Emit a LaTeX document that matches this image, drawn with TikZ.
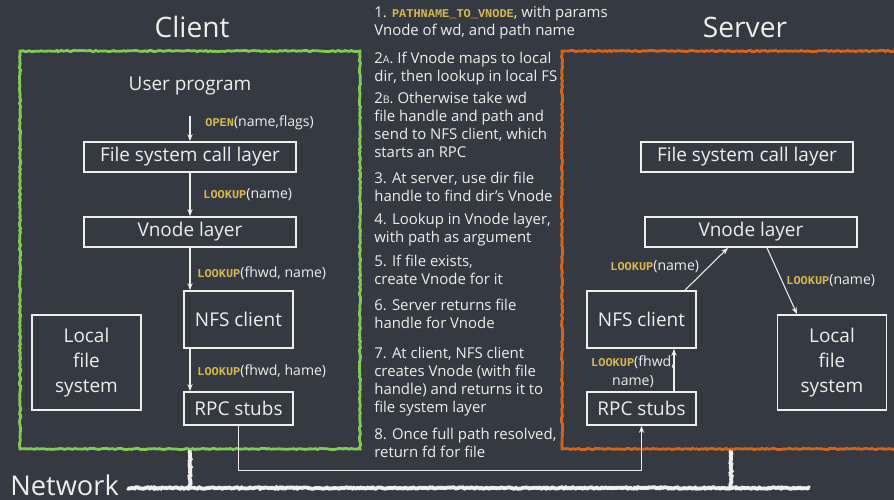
\documentclass[tikz,border=0pt]{standalone}
\usepackage{fontspec}
\setmainfont{Open Sans}
\newfontfamily\codefont{Liberation Mono}
\usepackage{tikz}
\usetikzlibrary{arrows.meta, positioning, calc, decorations.pathmorphing}
\definecolor{chalkbg}{RGB}{52,57,66}
\definecolor{chalkwhite}{RGB}{238,238,236}
\definecolor{chalkgreen}{RGB}{128,204,82}
\definecolor{chalkorange}{RGB}{214,100,22}
\definecolor{chalkyellow}{RGB}{214,184,80}
\newcommand{\callname}[1]{{\codefont\bfseries\fontsize{6.8}{8}\selectfont\color{chalkyellow}#1}}
\newcommand{\smallcap}[1]{{\fontsize{6}{7}\selectfont #1}}
\tikzset{
  title/.style={text=chalkwhite, font=\fontsize{16}{18}\selectfont},
  frame/.style={rectangle, line width=1.6pt,
    decorate, decoration={random steps, segment length=1.2pt, amplitude=0.35pt}},
  plain/.style={text=chalkwhite, font=\fontsize{10.8}{12}\selectfont},
  layer/.style={rectangle, draw=chalkwhite, line width=1pt, text=chalkwhite,
    minimum width=4.24cm, minimum height=0.6cm, inner sep=0pt,
    font=\fontsize{10.8}{12}\selectfont},
  module/.style={rectangle, draw=chalkwhite, line width=1pt, text=chalkwhite,
    minimum width=2.18cm, inner sep=0pt, align=center,
    font=\fontsize{10.8}{14}\selectfont},
  callnote/.style={text=chalkwhite, inner sep=0pt, font=\fontsize{8}{10.8}\selectfont},
  note/.style={text=chalkwhite, inner sep=0pt, anchor=base west, align=left,
    font=\fontsize{8.5}{10.4}\selectfont},
  arrow/.style={-{Stealth[length=4pt, width=3pt]}, line width=0.6pt, color=chalkwhite},
  netline/.style={line width=2.2pt, color=chalkwhite,
    decorate, decoration={random steps, segment length=1pt, amplitude=0.4pt}}
}
\begin{document}
\begin{tikzpicture}[x=0.02cm, y=-0.02cm]
  % Chalkboard
  \fill[chalkbg] (0,0) rectangle (894,500);
  \clip (0,0) rectangle (894,500);

  % Titles
  \node[title] (clienttitle) at (192,27) {Client};
  \node[title] (servertitle) at (745,27) {Server};

  % Machine frames
  \node[frame, draw=chalkgreen, minimum width=6.8cm, minimum height=7.96cm] (clientbox) at (190,250) {};
  \node[frame, draw=chalkorange, minimum width=7.36cm, minimum height=7.96cm] (serverbox) at (746,250) {};

  % Client side
  \node[plain] (userprog) at (190,86) {User program};
  \node[layer] (cfscl) at (190,157) {File system call layer};
  \node[layer] (cvnode) at (190,232) {Vnode layer};
  \node[module, minimum height=1.14cm] (cnfs) at (238.5,319.5) {NFS client};
  \node[module, minimum height=0.66cm] (crpc) at (238.5,408.5) {RPC stubs};
  \node[module, minimum height=1.9cm] (clocal) at (86.5,362.5) {Local\\file\\system};

  \coordinate (opencall) at (190,116);
  \draw[arrow] (opencall) -- (cfscl.north);
  \draw[arrow] (cfscl.south) -- (cvnode.north);
  \draw[arrow] (cvnode.south) -- (cvnode.south |- cnfs.north);
  \draw[arrow] (cnfs.south -| cvnode.south) -- (crpc.north -| cvnode.south);
  \node[callnote, anchor=base west] at (205,127) {\callname{OPEN}(name,flags)};
  \node[callnote, anchor=base west] at (203,199) {\callname{LOOKUP}(name)};
  \node[callnote, anchor=base west] at (197,278) {\callname{LOOKUP}(fhwd, name)};
  \node[callnote, anchor=base west] at (197,376) {\callname{LOOKUP}(fhwd, hame)};

  % Server side
  \node[layer] (sfscl) at (747,157) {File system call layer};
  \node[layer] (svnode) at (751,232) {Vnode layer};
  \node[module, minimum height=1.14cm] (snfs) at (641.5,319.5) {NFS client};
  \node[module, minimum height=0.66cm] (srpc) at (641.5,408.5) {RPC stubs};
  \node[module, minimum height=1.9cm] (slocal) at (832,362.5) {Local\\file\\system};

  \draw[arrow] ([xshift=0.65cm]srpc.north) -- ([xshift=0.65cm]snfs.south);
  \draw[arrow] ([xshift=0.87cm]snfs.north) -- ([xshift=-0.46cm]svnode.south);
  \draw[arrow] ([xshift=0.32cm]svnode.south) -- ([xshift=-0.7cm]slocal.north);
  \node[callnote, anchor=base west] at (610,271) {\callname{LOOKUP}(name)};
  \node[callnote, anchor=base west] at (786,285) {\callname{LOOKUP}(name)};
  \node[callnote, align=center] at (633,372) {\callname{LOOKUP}(fhwd,\\name)};

  % RPC across the wire
  \draw[arrow] (crpc.south) -- ++(0,45) -| (srpc.south);

  % Network
  \node[title, anchor=base west, inner sep=0pt, font=\fontsize{15.5}{17}\selectfont] (network) at (10,496) {Network};
  \coordinate (netend) at (810,488);
  \draw[netline] ([xshift=0.16cm]network.east |- netend) -- (netend);
  \draw[netline] (clientbox.south) -- (clientbox.south |- netend);
  \draw[netline] ([xshift=-0.3cm]serverbox.south) -- ([xshift=-0.3cm]serverbox.south |- netend);

  % Steps (anchored at the last line)
  \node[note] (step1) at (374,36) {1. \callname{PATHNAME\_TO\_VNODE}, with params\\Vnode of wd, and path name};
  \node[note] (step2a) at (374,82) {2\smallcap{A}. If Vnode maps to local\\dir, then lookup in local FS};
  \node[note] (step2b) at (374,158) {2\smallcap{B}. Otherwise take wd\\file handle and path and\\send to NFS client, which\\starts an RPC};
  \node[note] (step3) at (374,202) {3. At server, use dir file\\handle to find dir’s Vnode};
  \node[note] (step4) at (374,243) {4. Lookup in Vnode layer,\\with path as argument};
  \node[note] (step5) at (374,285) {5. If file exists,\\create Vnode for it};
  \node[note] (step6) at (374,329) {6. Server returns file\\handle for Vnode};
  \node[note] (step7) at (374,413) {7. At client, NFS client\\creates Vnode (with file\\handle) and returns it to\\file system layer};
  \node[note] (step8) at (374,458) {8. Once full path resolved,\\return fd for file};
\end{tikzpicture}
\end{document}
